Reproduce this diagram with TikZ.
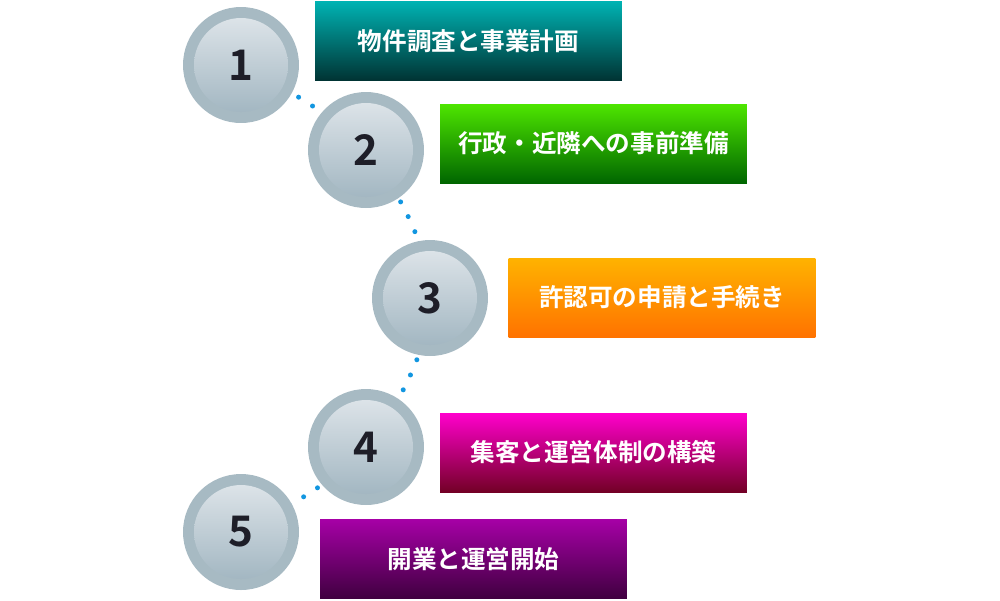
\documentclass[tikz,border=0pt]{standalone}
\usepackage{fontspec}
\setmainfont{Noto Sans CJK JP}[BoldFont={Noto Sans CJK JP Bold}]
\usetikzlibrary{positioning}

\tikzset{
  stepring/.style={circle, minimum size=2.32cm, inner sep=0pt, fill=ringgray},
  stepface/.style={circle, minimum size=1.88cm, inner sep=0pt,
    top color=facetop, bottom color=facebot, font=\bfseries\fontsize{24}{24}\selectfont, text=numdark},
  stepbox/.style={minimum width=6.14cm, minimum height=1.58cm, inner sep=0pt,
    text=white, font=\bfseries\fontsize{14}{16}\selectfont},
}
\definecolor{ringgray}{HTML}{A7BAC3}
\definecolor{facetop}{HTML}{DCE3E8}
\definecolor{facebot}{HTML}{A3B7C2}
\definecolor{numdark}{HTML}{1E1E28}
\definecolor{dotblue}{HTML}{1296E0}

\begin{document}
\begin{tikzpicture}[x=0.02cm, y=-0.02cm]
					\useasboundingbox (0,0) rectangle (1000,600);

					\coordinate (c1) at (241, 65);
					\coordinate (c2) at (366, 150);
					\coordinate (c3) at (430, 298);
					\coordinate (c4) at (366, 447);
					\coordinate (c5) at (241, 532);

					\draw[dotblue, line width=0.1cm, line cap=round, dash pattern=on 0pt off 0.33cm]
						plot[smooth, tension=0.6] coordinates {(c1) (c2) (c3) (c4) (c5)};

					\foreach \i in {1,...,5} {
						\node[stepring] (r\i) at (c\i) {};
						\node[stepface] (n\i) at (c\i) {\i};
					}

					\node[stepbox, top color=teal!60!cyan, bottom color=teal!40!black] (b1) at (468.5, 41) {物件調査と事業計画};
					\node[stepbox, top color=green!55!lime!90!black, bottom color=green!40!black] (b2) at (593.5, 143.5) {行政・近隣への事前準備};
					\node[stepbox, top color=orange!60!yellow, bottom color=orange!90!red] (b3) at (662, 297.5) {許認可の申請と手続き};
					\node[stepbox, top color=magenta!80!red, bottom color=purple!60!black] (b4) at (593.5, 452.5) {集客と運営体制の構築};
					\node[stepbox, top color=violet!70!magenta, bottom color=violet!50!black] (b5) at (473.5, 559) {開業と運営開始};
				\end{tikzpicture}
\end{document}
